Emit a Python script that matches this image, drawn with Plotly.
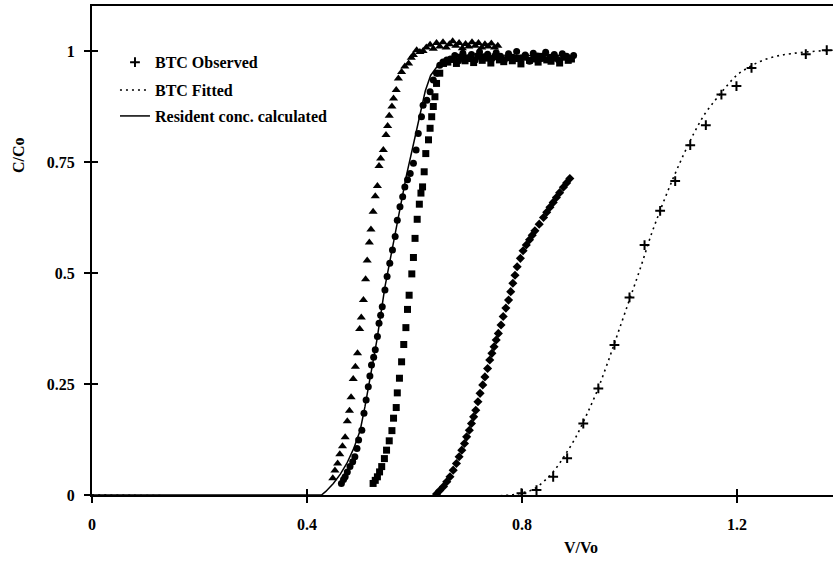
import plotly.graph_objects as go

# ---------------- data ----------------
tri_x = [0.448,0.452,0.457,0.461,0.466,0.471,0.475,0.479,0.482,0.486,0.490,0.494,0.498,0.501,0.505,
         0.509,0.512,0.516,0.519,0.523,0.527,0.531,0.534,0.537,0.542,0.547,0.550,0.553,0.558,0.561,
         0.566,0.570,0.576,0.582,0.589,0.594,0.598,0.604,0.610,0.616,0.622,0.629,
         0.635,0.641,0.647,0.653,0.659,0.665,0.671,0.677,0.683,0.689,0.695,0.701,0.707,0.713,0.719,
         0.725,0.731,0.737,0.743,0.749,0.755]
tri_y = [0.038,0.055,0.071,0.092,0.110,0.130,0.166,0.190,0.220,0.261,0.289,0.319,0.374,0.400,0.439,
         0.486,0.528,0.569,0.598,0.638,0.673,0.696,0.741,0.758,0.777,0.811,0.831,0.854,0.875,0.893,
         0.912,0.938,0.953,0.965,0.972,0.985,0.991,1.002,0.998,1.000,1.008,1.014,
         1.005,1.018,1.010,1.020,1.008,1.015,1.022,1.012,1.018,1.006,1.016,1.010,1.020,1.012,1.018,
         1.008,1.015,1.010,1.017,1.008,1.012]

cir_x = [0.464,0.468,0.471,0.475,0.480,0.485,0.489,0.493,0.496,0.502,0.506,0.510,0.514,0.517,0.520,
         0.524,0.527,0.531,0.534,0.537,0.540,0.545,0.549,0.554,0.559,0.564,0.568,0.573,0.578,0.582,
         0.587,0.592,0.598,0.603,0.607,0.613,0.616,0.623,0.629,0.635,0.641,0.647,0.653,0.660,
         0.667,0.675,0.682,0.690,0.698,0.706,0.713,0.721,0.729,0.736,0.744,0.752,0.760,0.767,0.775,
         0.783,0.790,0.798,0.806,0.814,0.821,0.829,0.837,0.844,0.852,0.860,0.868,0.875,0.883,0.890,0.896]
cir_y = [0.026,0.035,0.041,0.052,0.064,0.075,0.086,0.105,0.124,0.146,0.184,0.214,0.244,0.268,0.293,
         0.310,0.327,0.357,0.387,0.405,0.424,0.462,0.492,0.522,0.552,0.582,0.619,0.649,0.672,0.694,
         0.710,0.724,0.747,0.777,0.814,0.852,0.878,0.889,0.908,0.935,0.950,0.968,0.975,0.980,
         0.982,0.990,0.978,0.995,0.985,0.992,0.980,0.998,0.987,0.993,0.983,0.996,0.988,0.979,0.994,
         0.986,0.999,0.984,0.991,0.977,0.995,0.989,0.983,0.997,0.986,0.992,0.980,0.994,0.988,0.982,0.990]

sq_x = [0.523,0.527,0.531,0.535,0.539,0.544,0.548,0.553,0.558,0.561,0.566,0.568,0.572,0.576,0.580,
        0.584,0.587,0.590,0.595,0.598,0.601,0.605,0.609,0.612,0.615,0.618,0.621,0.626,0.629,0.632,
        0.635,0.638,0.641,0.647,0.654,
        0.662,0.670,0.678,0.686,0.694,0.702,0.710,0.718,0.726,0.734,0.742,0.750,0.758,0.766,0.774,
        0.782,0.790,0.798,0.806,0.814,0.822,0.830,0.838,0.846,0.854,0.862,0.870,0.878,0.886,0.892]
sq_y = [0.026,0.033,0.041,0.052,0.064,0.082,0.101,0.122,0.145,0.173,0.197,0.230,0.263,0.300,0.339,
        0.377,0.418,0.450,0.498,0.535,0.578,0.621,0.655,0.680,0.694,0.728,0.769,0.800,0.826,0.852,
        0.875,0.897,0.927,0.950,0.972,
        0.975,0.981,0.972,0.986,0.978,0.983,0.974,0.988,0.979,0.984,0.973,0.987,0.980,0.976,0.985,
        0.978,0.983,0.971,0.986,0.979,0.982,0.975,0.988,0.980,0.977,0.984,0.973,0.986,0.979,0.982]

dia_x = [0.641,0.647,0.654,0.660,0.666,0.672,0.678,0.683,0.688,0.693,0.697,0.702,0.706,0.710,0.714,
         0.718,0.722,0.727,0.731,0.736,0.740,0.744,0.748,0.752,0.756,0.761,0.765,0.770,0.775,0.779,
         0.783,0.787,0.791,0.797,0.802,0.808,0.814,0.819,0.824,0.832,0.840,0.846,0.852,0.858,0.864,
         0.870,0.877,0.883,0.889]
dia_y = [0.002,0.010,0.019,0.030,0.041,0.056,0.071,0.086,0.101,0.116,0.131,0.146,0.161,0.176,0.191,
         0.210,0.229,0.248,0.266,0.285,0.304,0.319,0.334,0.349,0.364,0.383,0.402,0.421,0.439,0.458,
         0.477,0.495,0.514,0.533,0.550,0.563,0.575,0.585,0.595,0.610,0.625,0.637,0.648,0.659,0.670,
         0.681,0.693,0.703,0.713]

obs_x = [0.799,0.827,0.858,0.884,0.914,0.942,0.972,1.000,1.028,1.057,1.085,1.113,1.142,1.171,1.199,
         1.227,1.328,1.367]
obs_y = [0.004,0.011,0.041,0.083,0.161,0.240,0.338,0.445,0.563,0.640,0.707,0.788,0.833,0.902,0.921,
         0.962,0.993,1.002]

fit_x = [0.0,0.78,0.80,0.82,0.84,0.86,0.88,0.90,0.92,0.94,0.96,0.98,1.00,1.02,1.04,1.06,1.08,1.10,
         1.12,1.14,1.16,1.18,1.20,1.22,1.24,1.26,1.28,1.30,1.33,1.38]
fit_y = [0.0,0.0,0.005,0.012,0.030,0.055,0.090,0.130,0.180,0.235,0.300,0.370,0.440,0.510,0.585,0.650,
         0.710,0.765,0.815,0.858,0.890,0.920,0.946,0.962,0.975,0.984,0.990,0.994,0.998,1.002]

res_x = [0.0,0.427,0.435,0.449,0.462,0.474,0.487,0.499,0.508,0.517,0.530,0.545,0.558,0.573,0.585,
         0.598,0.610,0.620,0.630,0.645,0.660,0.700,0.750,0.800,0.850,0.890]
res_y = [0.0,0.0,0.008,0.026,0.047,0.071,0.105,0.146,0.200,0.259,0.349,0.469,0.552,0.649,0.720,
         0.790,0.860,0.910,0.945,0.970,0.980,0.985,0.988,0.990,0.990,0.990]

x_ticks = [0, 0.4, 0.8, 1.2]
x_tick_text = ["0", "0.4", "0.8", "1.2"]
y_ticks = [0, 0.25, 0.5, 0.75, 1]
y_tick_text = ["0", "0.25", "0.5", "0.75", "1"]

X_MAX = 1.3786
Y_MAX = 1.1014
FONT = "Liberation Serif"

fig = go.Figure()
mk = dict(color="black", line=dict(width=0))
fig.add_trace(go.Scatter(x=res_x, y=res_y, mode="lines", name="Resident conc. calculated",
                         line=dict(color="black", width=1.5), legend="legend3"))
fig.add_trace(go.Scatter(x=fit_x, y=fit_y, mode="lines", name="BTC Fitted",
                         line=dict(color="black", width=1.6, dash="2px,4px", shape="spline"),
                         legend="legend2"))
fig.add_trace(go.Scatter(x=tri_x, y=tri_y, mode="markers", showlegend=False,
                         marker=dict(symbol="triangle-up", size=8, **mk)))
fig.add_trace(go.Scatter(x=cir_x, y=cir_y, mode="markers", showlegend=False,
                         marker=dict(symbol="circle", size=7, **mk)))
fig.add_trace(go.Scatter(x=sq_x, y=sq_y, mode="markers", showlegend=False,
                         marker=dict(symbol="square", size=7, **mk)))
fig.add_trace(go.Scatter(x=dia_x, y=dia_y, mode="markers", showlegend=False,
                         marker=dict(symbol="diamond", size=7, **mk)))
fig.add_trace(go.Scatter(x=obs_x, y=obs_y, mode="markers", name="BTC Observed",
                         marker=dict(symbol="cross-thin", size=7, color="black",
                                     line=dict(color="black", width=2)),
                         legend="legend"))
# empty trace to activate the overlay axes used for the inner half of the ticks
fig.add_trace(go.Scatter(x=[], y=[], xaxis="x2", yaxis="y2", showlegend=False, hoverinfo="skip"))

tickfont = dict(family=FONT, size=16, color="black", weight="bold")
legfont = dict(family=FONT, size=16, color="black", weight="bold")
fig.update_layout(
    width=833, height=573,
    margin=dict(l=92, r=0, t=6, b=78),
    paper_bgcolor="white", plot_bgcolor="white",
    font=dict(family=FONT, color="black"),
    xaxis=dict(range=[0, X_MAX], tickvals=x_ticks, ticktext=x_tick_text, tickfont=tickfont,
               ticks="outside", ticklen=6, tickwidth=2, tickcolor="black",
               showline=True, linewidth=2, linecolor="black", mirror=True,
               showgrid=False, zeroline=False, ticklabelstandoff=8),
    yaxis=dict(range=[0, Y_MAX], tickvals=y_ticks, ticktext=y_tick_text, tickfont=tickfont,
               ticks="outside", ticklen=6, tickwidth=2, tickcolor="black",
               showline=True, linewidth=2, linecolor="black",
               showgrid=False, zeroline=False, ticklabelstandoff=6),
    xaxis2=dict(range=[0, X_MAX], overlaying="x", anchor="y2", tickvals=x_ticks,
                ticks="inside", ticklen=6, tickwidth=2, tickcolor="black",
                showticklabels=False, showline=False, showgrid=False, zeroline=False),
    yaxis2=dict(range=[0, Y_MAX], overlaying="y", anchor="x2", tickvals=y_ticks,
                ticks="inside", ticklen=6, tickwidth=2, tickcolor="black",
                showticklabels=False, showline=False, showgrid=False, zeroline=False),
    legend=dict(x=0.031, y=0.885, xanchor="left", yanchor="middle", bgcolor="rgba(0,0,0,0)",
                font=legfont, itemwidth=30),
    legend2=dict(x=0.031, y=0.828, xanchor="left", yanchor="middle", bgcolor="rgba(0,0,0,0)",
                 font=legfont, itemwidth=30),
    legend3=dict(x=0.031, y=0.775, xanchor="left", yanchor="middle", bgcolor="rgba(0,0,0,0)",
                 font=legfont, itemwidth=30),
    annotations=[
        dict(text="<b>C/Co</b>", xref="paper", yref="paper", x=-0.1, y=0.695, textangle=-90,
             showarrow=False, xanchor="center", yanchor="middle",
             font=dict(family=FONT, size=16, color="black")),
        dict(text="<b>V/Vo</b>", xref="paper", yref="paper", x=0.66, y=-0.108,
             showarrow=False, xanchor="center", yanchor="middle",
             font=dict(family=FONT, size=16, color="black")),
    ],
)

fig.write_html("out.html")
